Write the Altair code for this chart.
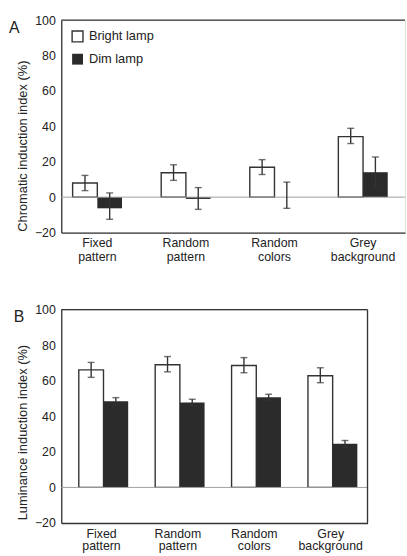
import altair as alt
import pandas as pd

conditions = ["Fixed pattern", "Random pattern", "Random colors", "Grey background"]
lamps = ["Bright lamp", "Dim lamp"]

# Panel A: chromatic induction index (%), means with error-bar ends
chrom_bright = [8.0, 13.8, 16.9, 34.2]
chrom_bright_lo = [3.7, 9.5, 12.8, 30.3]
chrom_bright_hi = [12.3, 18.3, 21.2, 38.9]
chrom_dim = [-6.3, -1.0, 0.0, 14.1]
chrom_dim_lo = [-12.5, -6.9, -6.3, 5.5]
chrom_dim_hi = [2.4, 5.4, 8.5, 22.7]

# Panel B: luminance induction index (%)
lum_bright = [66.1, 69.0, 68.6, 62.8]
lum_bright_lo = [61.9, 65.0, 64.5, 58.9]
lum_bright_hi = [70.3, 73.6, 73.0, 67.3]
lum_dim = [48.5, 47.8, 50.7, 24.5]
lum_dim_lo = [46.5, 46.0, 49.0, 22.6]
lum_dim_hi = [50.5, 49.6, 52.4, 26.4]

y_ticks = [-20, 0, 20, 40, 60, 80, 100]

FONT = "Liberation Sans"
INK = "#333333"
DARK = "#2b2b2b"


def frame(bright, blo, bhi, dim, dlo, dhi):
    rows = []
    for i, c in enumerate(conditions):
        rows.append({"condition": c, "lamp": lamps[0], "value": bright[i], "lo": blo[i], "hi": bhi[i]})
        rows.append({"condition": c, "lamp": lamps[1], "value": dim[i], "lo": dlo[i], "hi": dhi[i]})
    return pd.DataFrame(rows)


def panel(df, letter, ytitle, width, height, pad_inner, pad_outer, align,
          label_pad, label_lh, legend, right_border, letter_x, letter_y, title_y):
    x_axis = alt.Axis(labelAngle=0, ticks=False, tickSize=0, labelPadding=label_pad,
                      labelLineHeight=label_lh, labelExpr="split(datum.label, ' ')",
                      labelFont=FONT, labelFontSize=12.5, labelColor="#222",
                      labelOverlap=False, domainColor=INK, domainWidth=1.3,
                      labelBaseline="top")
    x_scale = alt.Scale(paddingInner=pad_inner, paddingOuter=pad_outer, align=align)
    y_axis = alt.Axis(values=y_ticks, ticks=False, tickSize=0, labelPadding=6, grid=False,
                      labelOverlap=False, labelFlush=False, labelBound=False,
                      labelFont=FONT, labelFontSize=12.5, labelColor="#222",
                      title=ytitle, titleFont=FONT, titleFontSize=13,
                      titleFontWeight="normal", titleColor="#222", titlePadding=5,
                      titleY=title_y, domainColor=INK, domainWidth=1.3)
    y_scale = alt.Scale(domain=[-20, 100], nice=False, zero=False)

    def xe():
        return alt.X("condition:N", sort=conditions, title=None, scale=x_scale, axis=x_axis)

    def ye(field):
        return alt.Y(field, scale=y_scale, axis=y_axis)

    xoff = alt.XOffset("lamp:N", sort=lamps, scale=alt.Scale(paddingInner=0, paddingOuter=0))

    base = alt.Chart(df)
    one = alt.Chart(pd.DataFrame({"k": [0]}))

    if legend:
        leg = alt.Legend(title=None, orient="none", legendX=10, legendY=10,
                         symbolType="square", symbolSize=121, symbolStrokeColor=INK,
                         symbolStrokeWidth=1.2, labelFont=FONT, labelFontSize=13,
                         labelColor="#222", labelOffset=5, rowPadding=8, padding=0)
    else:
        leg = None

    bars = base.mark_bar(stroke=INK).encode(
        x=xe(), xOffset=xoff, y=ye("value:Q"),
        fill=alt.Fill("lamp:N", sort=lamps,
                      scale=alt.Scale(domain=lamps, range=["#ffffff", DARK]),
                      legend=leg),
        strokeWidth=alt.StrokeWidth("lamp:N", scale=alt.Scale(domain=lamps, range=[1.4, 0]),
                                    legend=None),
    )
    zero = base.mark_rule(color="#a0a0a0", strokeWidth=1).transform_aggregate(
        n="count()").transform_calculate(zero="0").encode(y=ye("zero:Q"))
    top = one.mark_rule(color=INK, strokeWidth=1.2).encode(y=alt.value(0))

    whisk = base.mark_rule(color=INK, strokeWidth=1.4).encode(
        x=xe(), xOffset=xoff, y=ye("lo:Q"), y2="hi:Q",
    )
    cap_lo = base.mark_tick(color=INK, size=7, thickness=1.4).encode(
        x=xe(), xOffset=xoff, y=ye("lo:Q"),
    )
    cap_hi = base.mark_tick(color=INK, size=7, thickness=1.4).encode(
        x=xe(), xOffset=xoff, y=ye("hi:Q"),
    )
    tag = one.mark_text(text=letter, font=FONT, fontSize=16, align="left",
                        baseline="alphabetic", color="#222").encode(
        x=alt.value(letter_x), y=alt.value(letter_y))

    layers = [bars, zero, whisk, cap_lo, cap_hi, top, tag]
    if right_border:
        layers.append(one.mark_rule(color=INK, strokeWidth=1.3).encode(x=alt.value(width)))
    return alt.layer(*layers).properties(width=width, height=height)


df_a = frame(chrom_bright, chrom_bright_lo, chrom_bright_hi,
             chrom_dim, chrom_dim_lo, chrom_dim_hi)
df_b = frame(lum_bright, lum_bright_lo, lum_bright_hi,
             lum_dim, lum_dim_lo, lum_dim_hi)

panel_a = panel(df_a, "A", "Chromatic induction index (%)", 348, 215,
                0.4424, 0.1617, 0.397, 4, 14, True, False, -53, 13, 127)
panel_b = panel(df_b, "B", "Luminance induction index (%)", 310, 216,
                0.405, 0.207, 0.555, 5, 12, False, True, -48, 13, 124)

chart = alt.vconcat(panel_a, panel_b, spacing=78, bounds="flush").properties(
    padding={"left": 8, "top": 10, "right": 0, "bottom": 0}
).configure_view(stroke=None).configure(background="white")

chart.save("out.html", embed_options={"renderer": "svg", "actions": False})
